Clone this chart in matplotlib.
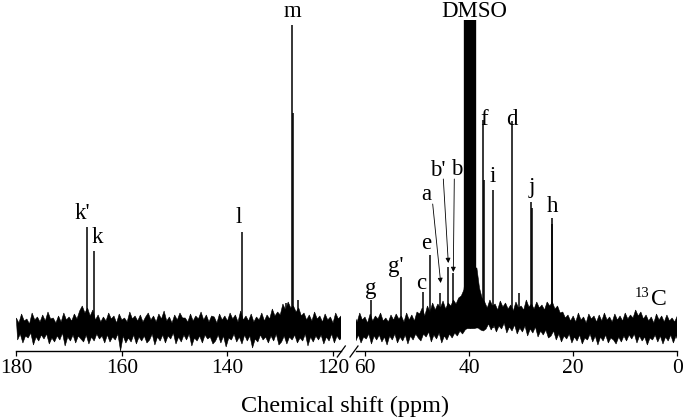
import numpy as np
import matplotlib
matplotlib.use("Agg")
import matplotlib.pyplot as plt
from matplotlib.lines import Line2D

plt.rcParams['font.family'] = ['Liberation Serif', 'DejaVu Serif']

# ---------------- data (intensity: arbitrary units above baseline) ----------------
# left panel (180 - 118 ppm)
left_peak_ppm = [166.7, 165.2, 137.3, 127.7, 127.6, 129.0, 126.6]
left_peak_int = [101, 77, 96, 303, 215, 25, 28]
# right panel (62 - 0 ppm)
right_peak_ppm = [58.9, 53.1, 48.8, 47.5, 45.6, 44.0, 43.0, 37.3, 37.15, 35.5,
                  31.8, 30.4, 28.15, 28.0, 24.15, 24.0]
right_peak_int = [28, 51, 36, 73, 35, 61, 55, 208, 148, 138,
                  207, 35, 126, 120, 110, 104]
# DMSO septet (off scale)
dmso_ppm = [40.7, 40.4, 40.1, 39.85, 39.6, 39.3, 39.0]
dmso_int = [420, 520, 650, 700, 650, 520, 420]

# baseline noise envelope, 0.5 ppm steps (upper edge / lower edge)
left_noise_hi = [
    10, 5, 14, 7, 9, 4, 15, 8, 11, 6, 13, 7, 16, 9, 10, 5, 12, 6, 15, 8, 11, 7, 14, 9, 17,
    22, 15, 20, 12, 18, 8, 13, 6, 11, 7, 15, 9, 12, 5, 14, 8, 10, 6, 16, 9, 12, 7, 13, 6, 11,
    15, 8, 12, 6, 14, 9, 17, 7, 11, 5, 13, 8, 15, 10, 10, 6, 14, 7, 12, 9, 16, 8, 13, 6, 12,
    11, 5, 14, 8, 12, 7, 15, 9, 13, 6, 17, 8, 12, 7, 14, 6, 11, 8, 15, 7, 13, 9, 19, 12, 16,
    13, 24, 18, 26, 20, 22, 16, 20, 12, 15, 8, 13, 7, 16, 9, 12, 6, 14, 8, 11, 5, 15, 9, 12, 10]
left_noise_lo = [
    -12, -6, -15, -8, -10, -5, -17, -9, -13, -7, -11, -6, -16, -10, -14, -8, -12, -5, -18, -9, -13, -7, -15, -8, -11,
    -14, -7, -16, -9, -13, -6, -11, -8, -15, -7, -14, -9, -12, -6, -23, -8, -15, -10, -14, -7, -16, -9, -13, -8, -15,
    -12, -6, -17, -9, -13, -7, -15, -8, -11, -5, -16, -9, -14, -7, -12, -6, -18, -10, -13, -8, -15, -7, -11, -9, -16,
    -13, -7, -15, -8, -19, -10, -12, -6, -14, -9, -16, -7, -13, -8, -20, -11, -14, -7, -12, -9, -15, -8, -13, -6, -17,
    -14, -8, -16, -9, -12, -7, -15, -10, -13, -6, -18, -9, -14, -8, -12, -7, -16, -9, -13, -6, -15, -8, -12, -9, -14]
right_noise_hi = [
    12, 6, 15, 8, 11, 5, 14, 7, 12, 9, 15, 7, 10, 6, 13, 8, 14, 9, 12, 6, 15, 8, 13, 7, 16,
    14, 20, 12, 22, 16, 25, 18, 24, 20, 27, 19, 25, 22, 28, 24, 30, 32, 38, 60, 60, 60, 60, 60, 40, 30,
    26, 20, 28, 22, 24, 18, 27, 21, 25, 19, 23, 17, 26, 20, 22, 18, 28, 21, 24, 19, 26, 20, 23, 18, 26,
    22, 26, 19, 22, 15, 16, 10, 13, 7, 12, 6, 15, 8, 11, 5, 14, 9, 12, 6, 13, 7, 15, 8, 11, 6,
    14, 8, 12, 7, 15, 9, 13, 10, 18, 12, 16, 9, 13, 7, 11, 5, 14, 8, 12, 6, 13, 7, 10, 6, 12]
right_noise_lo = [
    -13, -7, -15, -9, -11, -6, -16, -8, -12, -7, -14, -9, -17, -8, -12, -6, -15, -9, -13, -7, -16, -8, -12, -6, -10,
    -13, -6, -9, -4, -14, -7, -11, -5, -15, -8, -12, -6, -10, -5, -8, -3, -6, -2, 0, 0, 0, 0, 0, -2, -3,
    -1, 4, -2, 3, -4, 2, -1, 5, -5, 1, -3, 3, -6, 0, -4, 2, -8, -1, -5, 1, -9, -3, -7, -2, -10,
    -8, -3, -12, -6, -14, -8, -11, -6, -15, -9, -13, -7, -16, -10, -12, -6, -14, -8, -17, -9, -13, -7, -15, -10, -12,
    -16, -9, -14, -8, -13, -7, -11, -6, -15, -8, -13, -9, -17, -10, -12, -7, -14, -8, -16, -9, -13, -7, -15, -8, -14]

left_ticks = [180, 160, 140, 120]
right_ticks = [60, 40, 20, 0]

# labels: text, ppm, height (baseline of text)
left_labels = [("k'", 167.45, 109), ("k", 164.6, 85), ("l", 137.8, 105), ("m", 127.65, 311)]
right_labels = [("g", 58.94, 34), ("g'", 54.04, 56), ("c", 49.24, 39), ("e", 48.28, 79),
                ("a", 48.28, 128), ("b'", 45.97, 152), ("b", 42.38, 153),
                ("f", 37.14, 203), ("i", 35.41, 146), ("d", 31.82, 203),
                ("j", 27.92, 135), ("h", 23.88, 116), ("DMSO", 39.06, 311)]
# arrows: (start ppm, start y, tip ppm, tip y)
arrows = [(46.99, 124, 45.45, 45), (44.95, 149, 43.99, 65), (42.84, 149, 43.03, 56)]

# ---------------- figure ----------------
W, H = 685, 419
fig = plt.figure(figsize=(W / 100, H / 100), dpi=100)
bot = (H - 351) / H
hgt = (351 - 20.5) / H
axL = fig.add_axes([16.3 / W, bot, (341.5 - 16.3) / W, hgt])
axR = fig.add_axes([355.6 / W, bot, (677.3 - 355.6) / W, hgt])
YLIM = (-23, 307.5)


def draw(ax, hi, lo, x0, x1, ppm, inten):
    xh = np.linspace(x0, x1, len(hi))
    step = (x1 - x0) / (len(hi) - 1)
    xl = np.linspace(x0 + step / 2, x1 + step / 2, len(lo))
    xs = np.concatenate([xh, xl[::-1]])
    ys = np.concatenate([hi, lo[::-1]])
    ax.fill(xs, ys, color='k', lw=0.4, ec='k')
    ax.vlines(ppm, 0, inten, color='k', lw=1.1)


draw(axL, left_noise_hi, left_noise_lo, 180, 118, left_peak_ppm, left_peak_int)
draw(axR, right_noise_hi, right_noise_lo, 62, 0, right_peak_ppm, right_peak_int)
axR.vlines(dmso_ppm, 0, dmso_int, color='k', lw=2.4)

axL.set_xlim(180, 118.4)
axR.set_xlim(61.8, 0)
for ax, ticks in ((axL, left_ticks), (axR, right_ticks)):
    ax.set_ylim(*YLIM)
    ax.set_yticks([])
    ax.set_xticks(ticks)
    ax.set_xticklabels([str(t) for t in ticks])
    for s in ('top', 'left', 'right'):
        ax.spines[s].set_visible(False)
    ax.spines['bottom'].set_linewidth(1.0)
    ax.tick_params(axis='x', direction='out', length=3.8, width=0.9,
                   labelsize=15.5, pad=2)
    ax.patch.set_alpha(0)

for t, x, y in left_labels:
    axL.text(x, y, t, ha='center', va='baseline', fontsize=16.5)
for t, x, y in right_labels:
    axR.text(x, y, t, ha='center', va='baseline', fontsize=16.5)

for x0, y0, x1, y1 in arrows:
    axR.annotate('', xy=(x1, y1), xytext=(x0, y0),
                 arrowprops=dict(arrowstyle='-|>', lw=0.6, color='k',
                                 mutation_scale=7, shrinkA=0, shrinkB=0))

# 13C
axR.text(5.4, 31, "13", ha='right', va='baseline', fontsize=10.5)
axR.text(5.1, 23, "C", ha='left', va='baseline', fontsize=17)

# axis break marks
for xa, xb in ((337.3, 345.3), (350.0, 358.0)):
    fig.add_artist(Line2D([xa / W, xb / W], [(H - 357) / H, (H - 346) / H],
                          color='k', lw=0.9))

fig.text(0.504, (H - 406) / H, 'Chemical shift (ppm)', ha='center', va='center',
         fontsize=17.5)

fig.savefig('out.png', dpi=100)
